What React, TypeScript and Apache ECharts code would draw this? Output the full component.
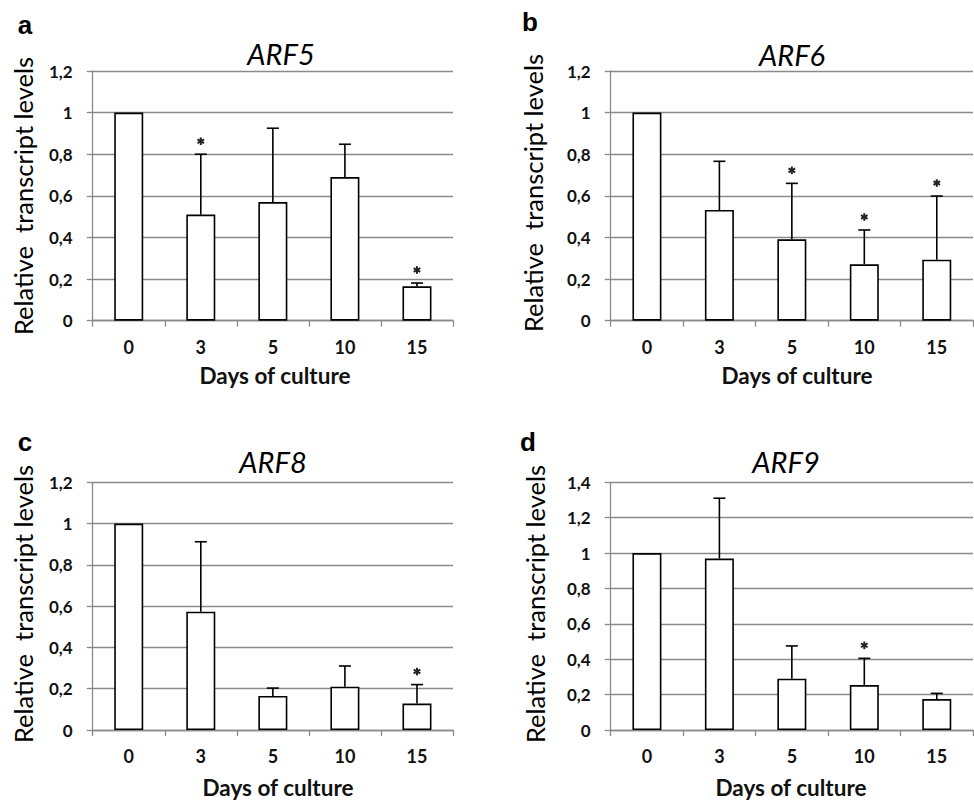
import React, { useEffect, useRef } from 'react';
import * as echarts from 'echarts';

const days = ['0', '3', '5', '10', '15'];

const arf5Mean = [1.0, 0.51, 0.57, 0.69, 0.165];
const arf5Sd = [0, 0.29, 0.355, 0.158, 0.016];
const arf5Sig = [false, true, false, false, true];

const arf6Mean = [1.0, 0.532, 0.391, 0.271, 0.293];
const arf6Sd = [0, 0.234, 0.269, 0.165, 0.306];
const arf6Sig = [false, false, true, true, true];

const arf8Mean = [1.0, 0.573, 0.165, 0.21, 0.128];
const arf8Sd = [0, 0.339, 0.038, 0.1, 0.092];
const arf8Sig = [false, false, false, false, true];

const arf9Mean = [1.0, 0.969, 0.29, 0.254, 0.175];
const arf9Sd = [0, 0.341, 0.185, 0.151, 0.032];
const arf9Sig = [false, false, false, true, false];

const yMaxes = [1.2, 1.2, 1.2, 1.4];
const genes = ['ARF5', 'ARF6', 'ARF8', 'ARF9'];
const panelLetters = ['a', 'b', 'c', 'd'];
const yTitle = 'Relative  transcript levels';
const xTitle = 'Days of culture';

const panels = [
  { mean: arf5Mean, sd: arf5Sd, sig: arf5Sig },
  { mean: arf6Mean, sd: arf6Sd, sig: arf6Sig },
  { mean: arf8Mean, sd: arf8Sd, sig: arf8Sig },
  { mean: arf9Mean, sd: arf9Sd, sig: arf9Sig },
];

const grids = [
  { left: 92.7, top: 71, width: 360.3, height: 249.7 },
  { left: 610.7, top: 71, width: 362.3, height: 249.7 },
  { left: 92.7, top: 482.3, width: 360.3, height: 247.7 },
  { left: 610.7, top: 482.3, width: 362.3, height: 247.7 },
];

const titlePos = [[281, 53.5], [792, 54], [273, 461], [786, 461]];
const letterPos = [[25, 25], [530, 22], [25, 442], [528, 442]];
const yTitlePos = [[23, 196], [533, 193], [23, 604], [535, 604]];
const xTitlePos = [[275, 375], [797, 375], [278, 787], [791, 787]];

const GRAY = '#8a8a8a';

export default function App() {
  const ref = useRef<HTMLDivElement>(null);
  useEffect(() => {
    if (!ref.current) return;
    const chart = echarts.init(ref.current, undefined, { renderer: 'svg' });
    const xAxis: any[] = [];
    const yAxis: any[] = [];
    const series: any[] = [];
    const graphic: any[] = [];
    panels.forEach((p, k) => {
      xAxis.push({
        type: 'category',
        gridIndex: k,
        data: days,
        axisLine: { lineStyle: { color: GRAY, width: 1.3 } },
        axisTick: { show: true, length: 6, lineStyle: { color: GRAY, width: 1.3 } },
        axisLabel: {
          color: '#111',
          fontFamily: 'Lato',
          fontWeight: 'bold',
          fontSize: 18,
          margin: 17,
        },
      });
      yAxis.push({
        type: 'value',
        gridIndex: k,
        min: 0,
        max: yMaxes[k],
        interval: 0.2,
        axisLine: { show: true, lineStyle: { color: GRAY, width: 1.3 } },
        axisTick: { show: true, length: 6, lineStyle: { color: GRAY, width: 1.3 } },
        splitLine: { show: true, lineStyle: { color: GRAY, width: 1.3 } },
        axisLabel: {
          color: '#111',
          fontFamily: 'Lato',
          fontWeight: 'bold',
          fontSize: 17,
          margin: 20,
          formatter: (v: number) => String(Math.round(v * 10) / 10).replace('.', ','),
        },
      });
      series.push({
        type: 'bar',
        xAxisIndex: k,
        yAxisIndex: k,
        data: p.mean,
        barWidth: 29,
        itemStyle: { color: '#ffffff', borderColor: '#000', borderWidth: 1.6 },
        silent: true,
      });
      series.push({
        type: 'custom',
        xAxisIndex: k,
        yAxisIndex: k,
        data: p.mean.map((m, i) => [i, m, m + p.sd[i]]),
        renderItem: (params: any, api: any) => {
          const lo = api.coord([api.value(0), api.value(1)]);
          const hi = api.coord([api.value(0), api.value(2)]);
          if (Math.abs(lo[1] - hi[1]) < 0.5) return { type: 'group', children: [] };
          const st = { stroke: '#000', lineWidth: 1.6 };
          return {
            type: 'group',
            children: [
              { type: 'line', shape: { x1: lo[0], y1: lo[1], x2: hi[0], y2: hi[1] }, style: st },
              { type: 'line', shape: { x1: hi[0] - 6, y1: hi[1], x2: hi[0] + 6, y2: hi[1] }, style: st },
            ],
          };
        },
        silent: true,
        z: 3,
      });
      series.push({
        type: 'custom',
        xAxisIndex: k,
        yAxisIndex: k,
        data: p.mean
          .map((m, i) => [i, m + p.sd[i], p.sig[i] ? 1 : 0])
          .filter((d) => d[2] === 1),
        renderItem: (params: any, api: any) => {
          const c = api.coord([api.value(0), api.value(1)]);
          const cx = c[0];
          const cy = c[1] - 13;
          const r = 3.8;
          const st = { stroke: '#222', lineWidth: 2 };
          const children = [90, 30, -30].map((deg) => {
            const a = (deg * Math.PI) / 180;
            return {
              type: 'line',
              shape: {
                x1: cx - r * Math.cos(a),
                y1: cy - r * Math.sin(a),
                x2: cx + r * Math.cos(a),
                y2: cy + r * Math.sin(a),
              },
              style: st,
            };
          });
          return { type: 'group', children };
        },
        silent: true,
        z: 3,
      });
      graphic.push({
        type: 'text',
        x: titlePos[k][0],
        y: titlePos[k][1],
        style: {
          text: genes[k],
          fontFamily: 'Lato',
          fontStyle: 'italic',
          fontSize: 29,
          fill: '#000',
          textAlign: 'center',
          textVerticalAlign: 'middle',
        },
      });
      graphic.push({
        type: 'text',
        x: letterPos[k][0],
        y: letterPos[k][1],
        style: {
          text: panelLetters[k],
          fontFamily: 'Liberation Sans',
          fontWeight: 'bold',
          fontSize: 26,
          fill: '#000',
          textAlign: 'center',
          textVerticalAlign: 'middle',
        },
      });
      graphic.push({
        type: 'text',
        x: yTitlePos[k][0],
        y: yTitlePos[k][1],
        rotation: Math.PI / 2,
        style: {
          text: yTitle,
          fontFamily: 'Lato',
          fontSize: 25.5,
          fill: '#000',
          textAlign: 'center',
          textVerticalAlign: 'middle',
        },
      });
      graphic.push({
        type: 'text',
        x: xTitlePos[k][0],
        y: xTitlePos[k][1],
        style: {
          text: xTitle,
          fontFamily: 'Lato',
          fontWeight: 'bold',
          fontSize: 22.5,
          fill: '#111',
          textAlign: 'center',
          textVerticalAlign: 'middle',
        },
      });
    });
    chart.setOption({
      animation: false,
      backgroundColor: '#ffffff',
      grid: grids.map((g) => ({ ...g, containLabel: false })),
      xAxis,
      yAxis,
      series,
      graphic,
    });
    return () => chart.dispose();
  }, []);
  return (
    <div
      ref={ref}
      style={{ position: 'absolute', left: 0, top: 0, width: 974, height: 801 }}
    />
  );
}
